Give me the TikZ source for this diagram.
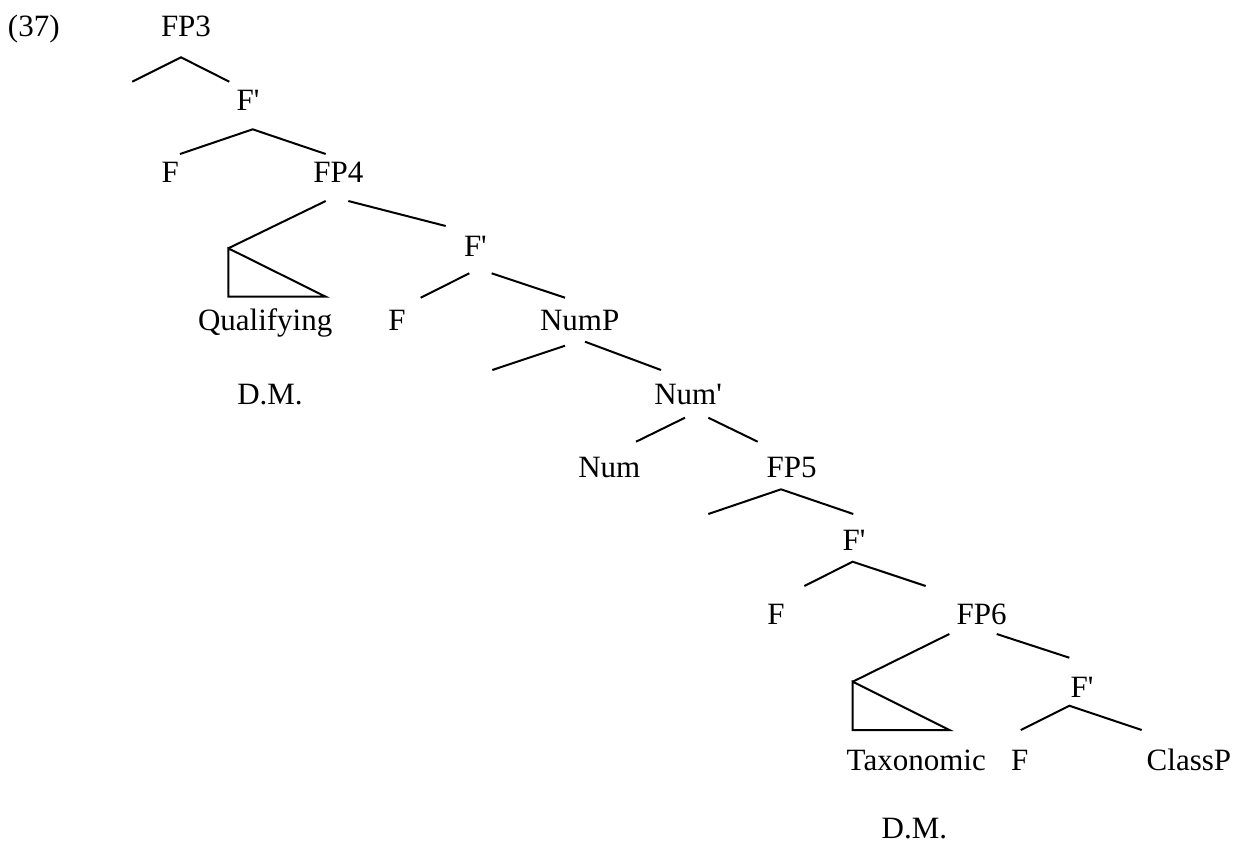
\documentclass[tikz,border=0pt]{standalone}
\usepackage{fontspec}
\setmainfont{Liberation Serif}
\begin{document}
\begin{tikzpicture}[x=0.5pt,y=-0.5pt,
  lbl/.style={anchor=base west,inner sep=0pt,outer sep=0pt,font=\fontsize{15.5}{18}\selectfont},
  branch/.style={line width=1pt,black}]
\useasboundingbox (0,0) rectangle (1234,848);
% labels
\node[lbl] (num37) at (8,36) {(37)};
\node[lbl] (fp3) at (161,36) {FP3};
\node[lbl] (fbar1) at (236.7,110) {F\textquotesingle};
\node[lbl] (f1) at (161.7,182.7) {F};
\node[lbl] (fp4) at (313.3,182.7) {FP4};
\node[lbl] (fbar2) at (464,256.7) {F\textquotesingle};
\node[lbl] (qual) at (198,330) {Qualifying};
\node[lbl] (f2) at (388.3,330) {F};
\node[lbl] (nump) at (540,330) {NumP};
\node[lbl] (dm1) at (237.3,404) {D.M.};
\node[lbl] (numbar) at (654.3,404) {Num\textquotesingle};
\node[lbl] (num) at (578.3,477.3) {Num};
\node[lbl] (fp5) at (766.7,477.3) {FP5};
\node[lbl] (fbar3) at (842.7,550.7) {F\textquotesingle};
\node[lbl] (f3) at (767.3,624.3) {F};
\node[lbl] (fp6) at (956.7,624.3) {FP6};
\node[lbl] (fbar4) at (1070.7,697.3) {F\textquotesingle};
\node[lbl] (tax) at (846.7,770.7) {Taxonomic};
\node[lbl] (f4) at (1011,770.7) {F};
\node[lbl] (classp) at (1146.7,770.7) {ClassP};
\node[lbl] (dm2) at (881.7,838.5) {D.M.};
% branch points
\coordinate (a1) at (181,57.3);
\coordinate (a1l) at (132.3,81.7);
\coordinate (a1r) at (229.3,81.7);
\coordinate (a2) at (252.7,129.3);
\coordinate (a2l) at (180,154);
\coordinate (a2r) at (325.7,154);
\coordinate (a3l) at (325.7,201);
\coordinate (t1a) at (228.3,248.3);
\coordinate (t1b) at (228.3,296.7);
\coordinate (t1c) at (325.7,296.7);
\coordinate (a3r) at (348.3,201);
\coordinate (a3re) at (445.7,226);
\coordinate (a4l) at (469.3,273.3);
\coordinate (a4le) at (420.7,297.7);
\coordinate (a4r) at (491.7,273.3);
\coordinate (a4re) at (565,297.7);
\coordinate (a5l) at (565,345.7);
\coordinate (a5le) at (492.3,370);
\coordinate (a5r) at (585,341.7);
\coordinate (a5re) at (661,370);
\coordinate (a6l) at (685,417.7);
\coordinate (a6le) at (636,441.7);
\coordinate (a6r) at (708.3,417.7);
\coordinate (a6re) at (757.7,441.7);
\coordinate (a7) at (781,489.3);
\coordinate (a7l) at (708.3,514);
\coordinate (a7r) at (853.3,514);
\coordinate (a8) at (852.7,561.7);
\coordinate (a8l) at (804.3,586);
\coordinate (a8r) at (925.7,586);
\coordinate (a9l) at (949.3,634);
\coordinate (t2a) at (852.7,681.7);
\coordinate (t2b) at (852.7,730);
\coordinate (t2c) at (949.3,730);
\coordinate (a9r) at (996.7,634);
\coordinate (a9re) at (1069.3,657.7);
\coordinate (a10) at (1069.3,705.7);
\coordinate (a10l) at (1020.7,730);
\coordinate (a10r) at (1141.7,730);
% branches
\draw[branch] (a1l) -- (a1) -- (a1r);
\draw[branch] (a2l) -- (a2) -- (a2r);
\draw[branch] (a3l) -- (t1a);
\draw[branch] (t1a) -- (t1b) -- (t1c) -- cycle;
\draw[branch] (a3r) -- (a3re);
\draw[branch] (a4l) -- (a4le);
\draw[branch] (a4r) -- (a4re);
\draw[branch] (a5l) -- (a5le);
\draw[branch] (a5r) -- (a5re);
\draw[branch] (a6l) -- (a6le);
\draw[branch] (a6r) -- (a6re);
\draw[branch] (a7l) -- (a7) -- (a7r);
\draw[branch] (a8l) -- (a8) -- (a8r);
\draw[branch] (a9l) -- (t2a);
\draw[branch] (t2a) -- (t2b) -- (t2c) -- cycle;
\draw[branch] (a9r) -- (a9re);
\draw[branch] (a10l) -- (a10) -- (a10r);
\end{tikzpicture}
\end{document}
